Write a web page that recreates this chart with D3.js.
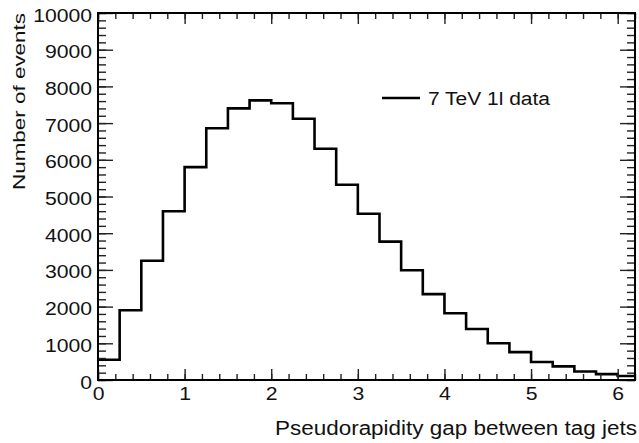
<!DOCTYPE html>
<html><head><meta charset="utf-8">
<script src="https://cdn.jsdelivr.net/npm/d3@7"></script>
<style>
body{margin:0;background:#fff}
svg text{font-family:"Liberation Sans",Arial,Helvetica,sans-serif;fill:#111}
</style>
</head><body>
<svg id="c" width="639" height="443"></svg>
<script>
// ---- data ----
const binLow = [0,0.25,0.5,0.75,1.0,1.25,1.5,1.75,2.0,2.25,2.5,2.75,3.0,3.25,3.5,3.75,4.0,4.25,4.5,4.75,5.0,5.25,5.5,5.75,6.0];
const binHigh = [0.25,0.5,0.75,1.0,1.25,1.5,1.75,2.0,2.25,2.5,2.75,3.0,3.25,3.5,3.75,4.0,4.25,4.5,4.75,5.0,5.25,5.5,5.75,6.0,6.25];
const counts = [550,1900,3250,4600,5800,6860,7400,7620,7540,7120,6300,5320,4530,3770,2990,2340,1820,1390,1000,760,490,370,230,160,110];
const xTickLabels = [0,1,2,3,4,5,6];
const yTickLabels = [0,1000,2000,3000,4000,5000,6000,7000,8000,9000,10000];
const seriesName = "7 TeV 1l data";
const xTitle = "Pseudorapidity gap between tag jets";
const yTitle = "Number of events";

// ---- layout ----
const L = 98, R = 635, T = 13, B = 380;
const svg = d3.select("#c");
const x = d3.scaleLinear().domain([0, 6.2]).range([L, R]);
const y = d3.scaleLinear().domain([0, 10000]).range([B, T]);

function stretch(sel, sx){
  sel.each(function(){
    const w = this.getComputedTextLength();
    this.setAttribute("textLength", (w*sx).toFixed(2));
    this.setAttribute("lengthAdjust","spacingAndGlyphs");
  });
}

// histogram
const pts = binLow.map((lo,i)=>[lo, counts[i]]);
pts.push([binHigh[binHigh.length-1], counts[counts.length-1]]);
svg.append("clipPath").attr("id","fr").append("rect")
  .attr("x",L).attr("y",T).attr("width",R-L).attr("height",B-T);
svg.append("path")
  .attr("clip-path","url(#fr)")
  .attr("d", d3.line().x(d=>x(d[0])).y(d=>y(d[1])).curve(d3.curveStepAfter)(pts))
  .attr("fill","none").attr("stroke","#000").attr("stroke-width",2.6);

// minor ticks
const yMinor = y.ticks(50);
const xMinor = x.ticks(31);
function minorAxis(axisFn, scale, vals, size, tr){
  const g = svg.append("g").attr("transform",tr)
    .call(axisFn(scale).tickValues(vals).tickSize(size).tickFormat(""));
  g.select(".domain").remove();
  g.selectAll("line").attr("stroke","#222").attr("stroke-width",1.4);
}
minorAxis(d3.axisLeft, y, yMinor, -8, `translate(${L},0)`);
minorAxis(d3.axisRight, y, yMinor, -8, `translate(${R},0)`);
minorAxis(d3.axisBottom, x, xMinor, -6, `translate(0,${B})`);
minorAxis(d3.axisTop, x, xMinor, -6, `translate(0,${T})`);

// major ticks
const gy = svg.append("g").attr("transform",`translate(${L},0)`)
  .call(d3.axisLeft(y).tickValues(yTickLabels).tickSize(-15).tickPadding(6).tickFormat(d=>String(d)));
gy.select(".domain").remove();
gy.selectAll("line").attr("stroke","#222").attr("stroke-width",1.4);
gy.attr("font-family",null).attr("font-size",null);
gy.selectAll("text").attr("font-size",17.5).attr("dy","0.46em").attr("x",-6);
stretch(gy.selectAll("text"), 1.21);

const gyr = svg.append("g").attr("transform",`translate(${R},0)`)
  .call(d3.axisRight(y).tickValues(yTickLabels).tickSize(-15).tickFormat(""));
gyr.select(".domain").remove();
gyr.selectAll("line").attr("stroke","#222").attr("stroke-width",1.4);

const gx = svg.append("g").attr("transform",`translate(0,${B})`)
  .call(d3.axisBottom(x).tickValues(xTickLabels).tickSize(-11).tickFormat(d=>String(d)));
gx.select(".domain").remove();
gx.selectAll("line").attr("stroke","#222").attr("stroke-width",1.4);
gx.attr("font-family",null).attr("font-size",null);
gx.selectAll("text").attr("font-size",17.5).attr("y",20).attr("dy",0);
stretch(gx.selectAll("text"), 1.21);

const gxt = svg.append("g").attr("transform",`translate(0,${T})`)
  .call(d3.axisTop(x).tickValues(xTickLabels).tickSize(-11).tickFormat(""));
gxt.select(".domain").remove();
gxt.selectAll("line").attr("stroke","#222").attr("stroke-width",1.4);

// frame
svg.append("rect").attr("x",L).attr("y",T).attr("width",R-L).attr("height",B-T)
  .attr("fill","none").attr("stroke","#000").attr("stroke-width",2);

// titles
const xt = svg.append("text").attr("x",637).attr("y",435).attr("text-anchor","end")
  .attr("font-size",19.5).text(xTitle);
xt.attr("textLength",362).attr("lengthAdjust","spacingAndGlyphs");

const yt = svg.append("text").attr("transform","translate(25,13) rotate(-90)")
  .attr("text-anchor","end").attr("font-size",16.5).text(yTitle);
yt.attr("textLength",177).attr("lengthAdjust","spacingAndGlyphs");

// legend
svg.append("line").attr("x1",382).attr("x2",420).attr("y1",98).attr("y2",98)
  .attr("stroke","#000").attr("stroke-width",2.6);
const lt = svg.append("text").attr("x",428).attr("y",105).attr("font-size",18).text(seriesName);
lt.attr("textLength",122).attr("lengthAdjust","spacingAndGlyphs");
</script>
</body></html>
